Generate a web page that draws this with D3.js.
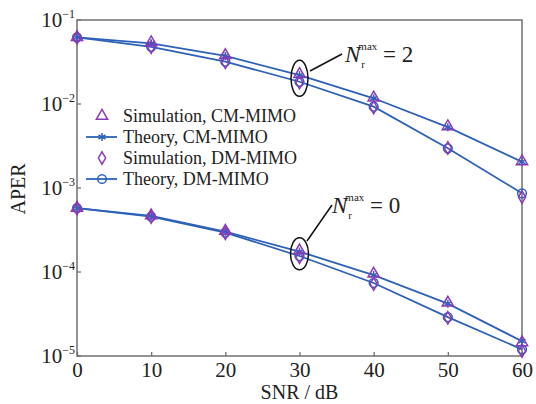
<!DOCTYPE html>
<html lang="en">
<head>
    <meta charset="UTF-8">
    <title>APER vs SNR</title>
    <script src="https://d3js.org/d3.v7.min.js"></script>
    <style>
        body {
            margin: 0;
            background: #ffffff;
        }
        svg text {
            font-family: "Liberation Serif", "DejaVu Serif", serif;
            fill: #222;
        }
        .curve {
            fill: none;
            stroke: #2d62b8;
            stroke-width: 1.8;
        }
    </style>
</head>
<body>
    <svg id="chart" width="536" height="404"></svg>

    <script>
        // 数据
        const snr = [0, 10, 20, 30, 40, 50, 60];
        const yTickExp = [-1, -2, -3, -4, -5];

        // N_r^max = 2
        const theoryCM2 = [0.0622, 0.0528, 0.0373, 0.0221, 0.0117, 0.0053, 0.00205];
        const theoryDM2 = [0.0622, 0.0480, 0.0319, 0.0184, 0.0093, 0.00297, 0.000865];
        const simCM2 = [0.0625, 0.0540, 0.0380, 0.0226, 0.0119, 0.0054, 0.00207];
        const simDM2 = [0.0615, 0.0474, 0.0314, 0.0180, 0.0091, 0.00300, 0.00078];

        // N_r^max = 0
        const theoryCM0 = [0.000575, 0.000465, 0.000302, 0.000175, 0.000092, 0.000042, 0.0000150];
        const theoryDM0 = [0.000575, 0.000455, 0.000295, 0.000155, 0.000074, 0.000029, 0.0000120];
        const simCM0 = [0.000580, 0.000470, 0.000308, 0.000180, 0.000095, 0.000043, 0.0000145];
        const simDM0 = [0.000570, 0.000450, 0.000290, 0.000150, 0.000072, 0.0000285, 0.0000115];

        const legendLabels = ["Simulation, CM-MIMO", "Theory, CM-MIMO", "Simulation, DM-MIMO", "Theory, DM-MIMO"];

        const blue = "#2d62b8";
        const purple = "#8a3ab8";

        const svg = d3.select("#chart");
        const margin = {top: 20, right: 14, bottom: 48, left: 77};
        const width = 536 - margin.left - margin.right;
        const height = 404 - margin.top - margin.bottom;

        const g = svg.append("g")
            .attr("transform", `translate(${margin.left},${margin.top})`);

        const x = d3.scaleLinear().domain([0, 60]).range([0, width]);
        const y = d3.scaleLog().domain([1e-5, 1e-1]).range([height, 0]);

        // 坐标框
        g.append("rect")
            .attr("width", width)
            .attr("height", height)
            .attr("fill", "none")
            .attr("stroke", "#707070")
            .attr("stroke-width", 1.5);

        // x 轴
        const xAxis = g.append("g")
            .attr("transform", `translate(0,${height})`)
            .call(d3.axisBottom(x).tickValues(snr).tickSize(-4).tickPadding(6).tickFormat(d3.format("d")));
        xAxis.select(".domain").remove();
        xAxis.selectAll("line").attr("stroke", "#707070").attr("stroke-width", 1.3);
        xAxis.selectAll("text")
            .attr("font-size", 21)
            .attr("fill", "#222");

        // y 轴 (10 的幂)
        const yAxis = g.append("g");
        yAxis.selectAll("line")
            .data(yTickExp)
            .enter().append("line")
            .attr("x1", 0).attr("x2", 4)
            .attr("y1", d => y(Math.pow(10, d)))
            .attr("y2", d => y(Math.pow(10, d)))
            .attr("stroke", "#707070")
            .attr("stroke-width", 1.3);

        const yLabels = yAxis.selectAll("text")
            .data(yTickExp)
            .enter().append("text")
            .attr("x", -2)
            .attr("y", d => y(Math.pow(10, d)) + 7)
            .attr("text-anchor", "end")
            .attr("font-size", 21);
        yLabels.append("tspan").text("10");
        yLabels.append("tspan")
            .attr("dy", -9)
            .attr("font-size", 12)
            .text(d => "\u2212" + Math.abs(d));

        // 轴标题
        svg.append("text")
            .attr("x", margin.left + width / 2)
            .attr("y", 399)
            .attr("text-anchor", "middle")
            .attr("font-size", 20)
            .text("SNR / dB");

        svg.append("text")
            .attr("transform", "translate(25,189) rotate(-90)")
            .attr("text-anchor", "middle")
            .attr("font-size", 20)
            .text("APER");

        // 曲线
        const line = d3.line()
            .x((d, i) => x(snr[i]))
            .y(d => y(d));

        [theoryCM2, theoryDM2, theoryCM0, theoryDM0].forEach(s => {
            g.append("path")
                .datum(s)
                .attr("class", "curve")
                .attr("d", line);
        });

        const triangle = d3.symbol().type(d3.symbolTriangle).size(55);
        const diamond = d3.symbol().type(d3.symbolDiamond).size(45);
        const asterisk = d3.symbol().type(d3.symbolAsterisk).size(45);
        const circle = d3.symbol().type(d3.symbolCircle).size(60);

        function drawMarkers(series, sym, color, cls) {
            g.selectAll("." + cls)
                .data(series)
                .enter().append("path")
                .attr("class", cls)
                .attr("d", sym)
                .attr("transform", (d, i) => `translate(${x(snr[i])},${y(d)})`)
                .attr("fill", "none")
                .attr("stroke", color)
                .attr("stroke-width", 1.5);
        }

        drawMarkers(theoryCM2, asterisk, blue, "tcm2");
        drawMarkers(theoryCM0, asterisk, blue, "tcm0");
        drawMarkers(theoryDM2, circle, blue, "tdm2");
        drawMarkers(theoryDM0, circle, blue, "tdm0");
        drawMarkers(simCM2, triangle, purple, "scm2");
        drawMarkers(simCM0, triangle, purple, "scm0");
        drawMarkers(simDM2, diamond, purple, "sdm2");
        drawMarkers(simDM0, diamond, purple, "sdm0");

        // 图例
        const legendSyms = [triangle, asterisk, diamond, circle];
        const legendColors = [purple, blue, purple, blue];
        const legend = svg.append("g");
        legendLabels.forEach((lab, i) => {
            const ly = 116 + i * 21;
            const row = legend.append("g").attr("transform", `translate(0,${ly})`);
            if (i % 2 === 1) {
                row.append("line")
                    .attr("x1", 86).attr("x2", 117)
                    .attr("stroke", blue)
                    .attr("stroke-width", 1.8);
            }
            row.append("path")
                .attr("d", legendSyms[i])
                .attr("transform", "translate(102,0)")
                .attr("fill", "none")
                .attr("stroke", legendColors[i])
                .attr("stroke-width", 1.5);
            row.append("text")
                .attr("x", 123)
                .attr("y", 6)
                .attr("font-size", 18)
                .text(lab);
        });

        // 注释
        function annotate(cx, cy, rx, ry, x1, y1, x2, y2, tx, ty, val) {
            g.append("ellipse")
                .attr("cx", x(cx)).attr("cy", y(cy))
                .attr("rx", rx).attr("ry", ry)
                .attr("fill", "none")
                .attr("stroke", "#111")
                .attr("stroke-width", 1.5);
            svg.append("line")
                .attr("x1", x1).attr("y1", y1)
                .attr("x2", x2).attr("y2", y2)
                .attr("stroke", "#111")
                .attr("stroke-width", 1.5);
            const t = svg.append("text")
                .attr("x", tx)
                .attr("y", ty)
                .attr("font-size", 23);
            t.append("tspan").attr("font-style", "italic").text("N");
            t.append("tspan").attr("font-size", 11).attr("dx", -2).attr("dy", -12).text("max");
            t.append("tspan").attr("font-size", 11).attr("dx", -16).attr("dy", 18).text("r");
            t.append("tspan").attr("dx", 18).attr("dy", -6).text("= " + val);
        }

        annotate(30, 0.0202, 8.5, 18, 310, 71, 342, 54, 345, 62, "2");
        annotate(30, 0.000165, 9, 16, 307, 241, 332, 205, 332, 213, "0");
    </script>
</body>
</html>
